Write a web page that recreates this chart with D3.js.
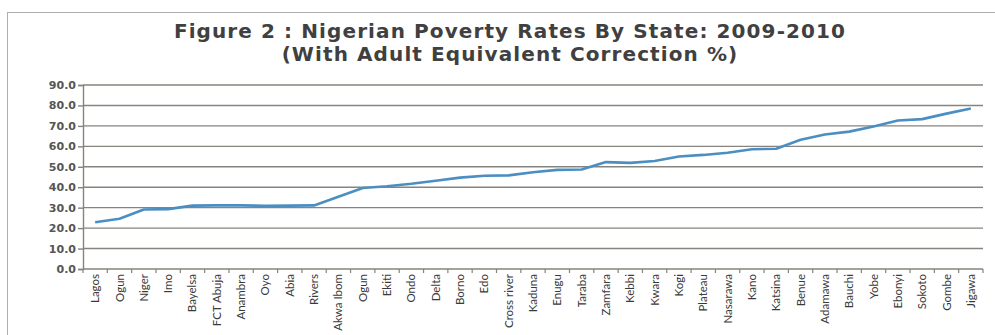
<!DOCTYPE html>
<html><head><meta charset="utf-8">
<script src="https://cdn.jsdelivr.net/npm/d3@7"></script>
<style>body{margin:0;background:#fff}svg{display:block}</style>
</head><body>
<svg id="c" width="995" height="335"></svg>
<script>
const states = ["Lagos","Ogun","Niger","Imo","Bayelsa","FCT Abuja","Anambra","Oyo","Abia","Rivers","Akwa Ibom","Ogun","Ekiti","Ondo","Delta","Borno","Edo","Cross river","Kaduna","Enugu","Taraba","Zamfara","Kebbi","Kwara","Kogi","Plateau","Nasarawa","Kano","Katsina","Benue","Adamawa","Bauchi","Yobe","Ebonyi","Sokoto","Gombe","Jigawa"];
const povertyRates = [22.9,24.6,29.1,29.3,31.0,31.1,31.1,30.9,31.0,31.1,35.3,39.6,40.5,41.7,43.2,44.7,45.6,45.8,47.3,48.5,48.7,52.3,51.9,52.8,55.0,55.8,56.9,58.6,58.8,63.2,65.8,67.2,69.7,72.6,73.3,76.0,78.5];
const yTicks = [0,10,20,30,40,50,60,70,80,90];
const titleLines = ["Figure 2 : Nigerian Poverty Rates By State: 2009-2010","(With Adult Equivalent Correction %)"];

const svg = d3.select("#c");
const m = {left:83, right:983, top:85, bottom:269};

svg.append("rect").attr("x",7.5).attr("y",12.5).attr("width",990).attr("height",340)
  .attr("fill","none").attr("stroke","#b0aeab").attr("stroke-width",1);

svg.selectAll("text.title").data(titleLines).join("text")
  .attr("class","title")
  .attr("x",510).attr("y",(d,i)=>38+i*23)
  .attr("text-anchor","middle")
  .attr("font-family","'DejaVu Sans', sans-serif").attr("font-weight",700)
  .attr("font-size",20).attr("letter-spacing",1.1).attr("fill","#404040").text(d=>d);

const x = d3.scaleBand().domain(d3.range(states.length)).range([m.left,m.right]);
const y = d3.scaleLinear().domain([0,90]).range([m.bottom,m.top]);

// gridlines
svg.append("g").selectAll("line").data(yTicks.filter(d=>d>0)).join("line")
  .attr("x1",m.left).attr("x2",m.right).attr("y1",d=>y(d)).attr("y2",d=>y(d))
  .attr("stroke","#87837e").attr("stroke-width",1.4);

// y axis
const ya = svg.append("g").attr("transform",`translate(${m.left},0)`)
  .call(d3.axisLeft(y).tickValues(yTicks).tickSize(5).tickFormat(d3.format(".1f")));
ya.select(".domain").attr("stroke","#87837e").attr("stroke-width",1.4);
ya.selectAll(".tick line").attr("stroke","#87837e").attr("stroke-width",1.4);
ya.selectAll(".tick text").attr("x",-7).attr("font-family","'DejaVu Sans', sans-serif")
  .attr("font-weight",700).attr("font-size",11).attr("fill","#555");

// x axis
const xa = svg.append("g").attr("transform",`translate(0,${m.bottom})`);
xa.append("line").attr("x1",m.left).attr("x2",m.right).attr("stroke","#87837e").attr("stroke-width",1.4);
xa.selectAll("line.tk").data(d3.range(states.length+1)).join("line").attr("class","tk")
  .attr("x1",i=>m.left+i*x.step()).attr("x2",i=>m.left+i*x.step()).attr("y1",0).attr("y2",4)
  .attr("stroke","#87837e").attr("stroke-width",1.2);
xa.selectAll("text").data(states).join("text")
  .attr("transform",(d,i)=>`translate(${x(i)+x.bandwidth()/2},5) rotate(-90)`)
  .attr("text-anchor","end").attr("dy","0.35em")
  .attr("font-family","Lato, sans-serif").attr("font-size",11.5).attr("fill","#3a3a3a")
  .text(d=>d);

// line
const line = d3.line().x((d,i)=>x(i)+x.bandwidth()/2).y(d=>y(d));
svg.append("path").datum(povertyRates).attr("d",line)
  .attr("fill","none").attr("stroke","#4b8fc2").attr("stroke-width",2.6).attr("stroke-linejoin","round");
</script>
</body></html>
